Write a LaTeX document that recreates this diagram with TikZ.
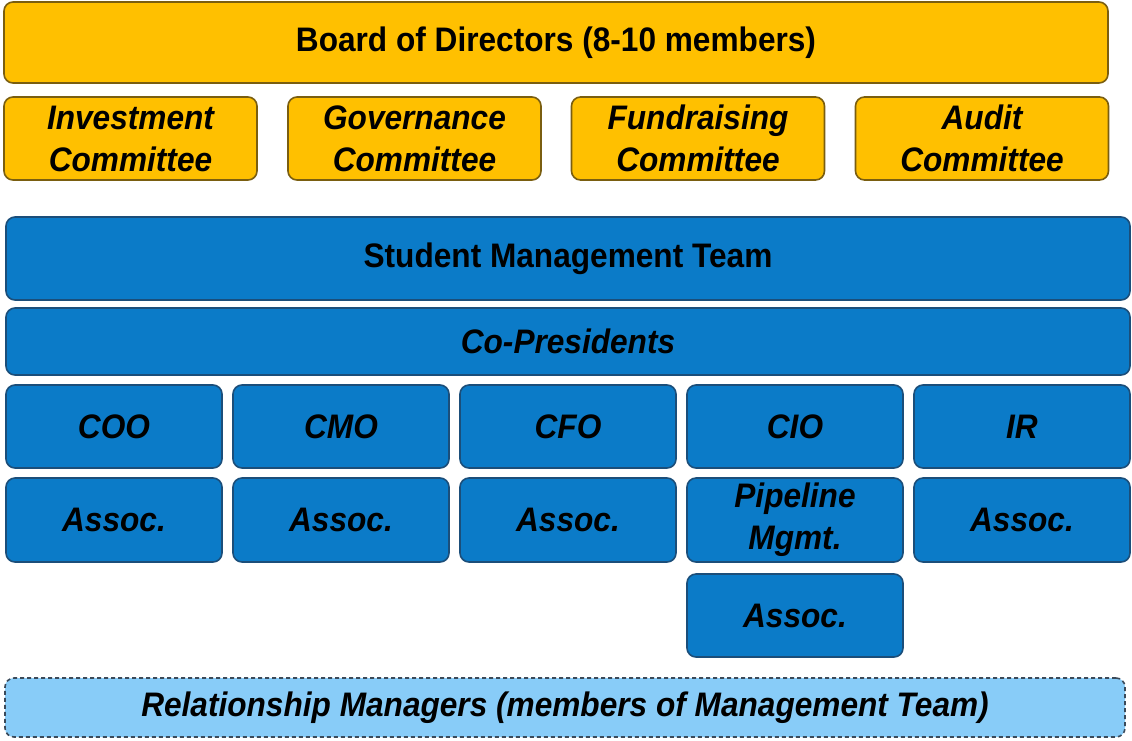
\documentclass[tikz,border=0pt]{standalone}
\usepackage{fontspec}
\setmainfont{Liberation Sans}[FakeStretch=0.93]
\definecolor{gold}{HTML}{FFC000}
\definecolor{goldedge}{HTML}{7A5E10}
\definecolor{blu}{HTML}{0B7BC8}
\definecolor{bluedge}{HTML}{1B4E7A}
\definecolor{ltblu}{HTML}{88CCF8}
\definecolor{dashedge}{HTML}{3A4A5A}
\tikzset{
  box/.style={rounded corners=9pt, line width=1.6pt, inner sep=0pt, align=center,
    font=\fontsize{34}{42}\selectfont\bfseries, text=black},
  goldbox/.style={box, fill=gold, draw=goldedge},
  bluebox/.style={box, fill=blu, draw=bluedge},
  rmbox/.style={box, fill=ltblu, draw=dashedge, dashed, dash pattern=on 4pt off 3pt},
  it/.style={font=\fontsize{34}{42}\selectfont\bfseries\itshape}
}
\begin{document}
\begin{tikzpicture}[x=1pt,y=-1pt]
\useasboundingbox (0,0) rectangle (1132,740);
% Board
\node[goldbox, minimum width=1104pt, minimum height=81pt] (board) at (556,42.5) {Board of Directors (8-10 members)};
\node[goldbox, it, minimum width=253pt, minimum height=83pt] (inv) at (130.5,138.5) {Investment\\Committee};
\node[goldbox, it, minimum width=253pt, minimum height=83pt] (gov) at (414.5,138.5) {Governance\\Committee};
\node[goldbox, it, minimum width=253pt, minimum height=83pt] (fund) at (698,138.5) {Fundraising\\Committee};
\node[goldbox, it, minimum width=253pt, minimum height=83pt] (audit) at (982,138.5) {Audit\\Committee};
% Management
\node[bluebox, minimum width=1124pt, minimum height=83pt] (smt) at (568,258.5) {Student Management Team};
\node[bluebox, it, minimum width=1124pt, minimum height=67pt] (cop) at (568,341.5) {Co-Presidents};
\node[bluebox, it, minimum width=216pt, minimum height=83pt] (coo) at (114,426.5) {COO};
\node[bluebox, it, minimum width=216pt, minimum height=83pt] (cmo) at (341,426.5) {CMO};
\node[bluebox, it, minimum width=216pt, minimum height=83pt] (cfo) at (568,426.5) {CFO};
\node[bluebox, it, minimum width=216pt, minimum height=83pt] (cio) at (795,426.5) {CIO};
\node[bluebox, it, minimum width=216pt, minimum height=83pt] (ir) at (1022,426.5) {IR};
\node[bluebox, it, minimum width=216pt, minimum height=84pt] (a1) at (114,520) {Assoc.};
\node[bluebox, it, minimum width=216pt, minimum height=84pt] (a2) at (341,520) {Assoc.};
\node[bluebox, it, minimum width=216pt, minimum height=84pt] (a3) at (568,520) {Assoc.};
\node[bluebox, it, minimum width=216pt, minimum height=84pt] (pipe) at (795,520) {Pipeline\\Mgmt.};
\node[bluebox, it, minimum width=216pt, minimum height=84pt] (a5) at (1022,520) {Assoc.};
\node[bluebox, it, minimum width=216pt, minimum height=83pt] (a4) at (795,615.5) {Assoc.};
% Relationship managers
\node[rmbox, it, minimum width=1120pt, minimum height=59pt] (rm) at (565,707.5) {Relationship Managers (members of Management Team)};
\end{tikzpicture}
\end{document}
